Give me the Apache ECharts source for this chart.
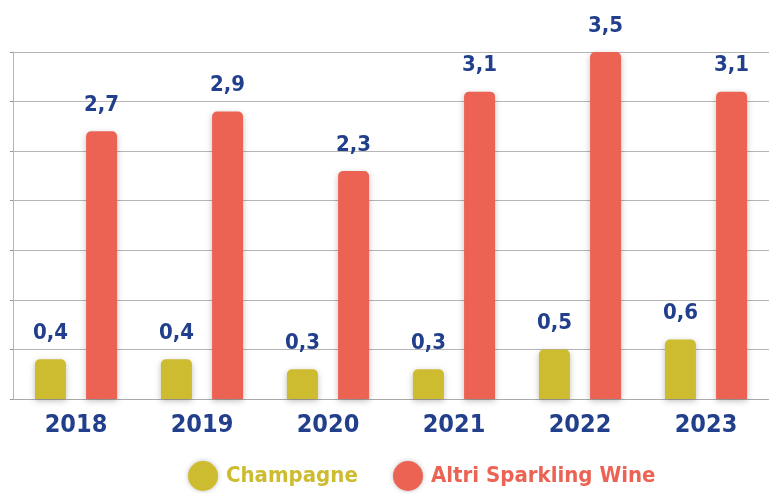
<!DOCTYPE html>
<html>
<head>
<meta charset="utf-8">
<script src="https://cdn.jsdelivr.net/npm/echarts@6/dist/echarts.min.js"></script>
<style>
  html, body { margin: 0; padding: 0; background: #fff; }
  #chart { width: 769px; height: 493px; }
</style>
</head>
<body>
<div id="chart"></div>
<script>
// Data
const years = ['2018', '2019', '2020', '2021', '2022', '2023'];
const champagne = [0.4, 0.4, 0.3, 0.3, 0.5, 0.6];
const altriSparkling = [2.7, 2.9, 2.3, 3.1, 3.5, 3.1];

const labelFont = "'Liberation Sans Narrow', 'DejaVu Sans Condensed', sans-serif";
const labelColor = '#223f8c';
const champColor = '#cdbb30';
const altriColor = '#ec6354';

function makeSeries(name, data, color) {
  return {
    name: name,
    type: 'bar',
    data: data,
    barWidth: 31,
    barGap: '65%',
    itemStyle: {
      color: color,
      borderRadius: [5, 5, 0, 0],
      shadowColor: 'rgba(0,0,0,0.25)',
      shadowBlur: 6,
      shadowOffsetY: 2
    },
    label: {
      show: true,
      position: 'top',
      distance: 15,
      color: labelColor,
      fontFamily: labelFont,
      fontWeight: 'bold',
      fontSize: 22,
      formatter: p => p.value.toFixed(1).replace('.', ',')
    }
  };
}

function makeLegend(name, color, left) {
  return {
    top: 456,
    left: left,
    itemWidth: 30,
    itemHeight: 30,
    icon: 'circle',
    itemStyle: { shadowColor: 'rgba(0,0,0,0.25)', shadowBlur: 5 },
    textStyle: {
      color: color,
      fontFamily: labelFont,
      fontWeight: 'bold',
      fontSize: 22,
      padding: [0, 0, 0, 3]
    },
    data: [name]
  };
}

const chart = echarts.init(document.getElementById('chart'));
chart.setOption({
  animation: false,
  grid: { left: 13, right: 0, top: 52, bottom: 94 },
  legend: [
    makeLegend('Champagne', champColor, 183),
    makeLegend('Altri Sparkling Wine', altriColor, 388)
  ],
  xAxis: {
    type: 'category',
    data: years,
    axisLine: { show: true, lineStyle: { color: '#aaa', width: 1 } },
    axisTick: { show: false },
    axisLabel: {
      color: labelColor,
      fontFamily: labelFont,
      fontWeight: 'bold',
      fontSize: 25,
      margin: 14
    }
  },
  yAxis: {
    type: 'value',
    min: 0,
    max: 3.5,
    interval: 0.5,
    axisLine: { show: true, lineStyle: { color: '#b5b5b5' } },
    axisTick: { show: true, length: 3, lineStyle: { color: '#999' } },
    axisLabel: { show: false },
    splitLine: { show: true, lineStyle: { color: '#b5b5b5', width: 1 } }
  },
  series: [
    makeSeries('Champagne', champagne, champColor),
    makeSeries('Altri Sparkling Wine', altriSparkling, altriColor)
  ]
});
</script>
</body>
</html>
